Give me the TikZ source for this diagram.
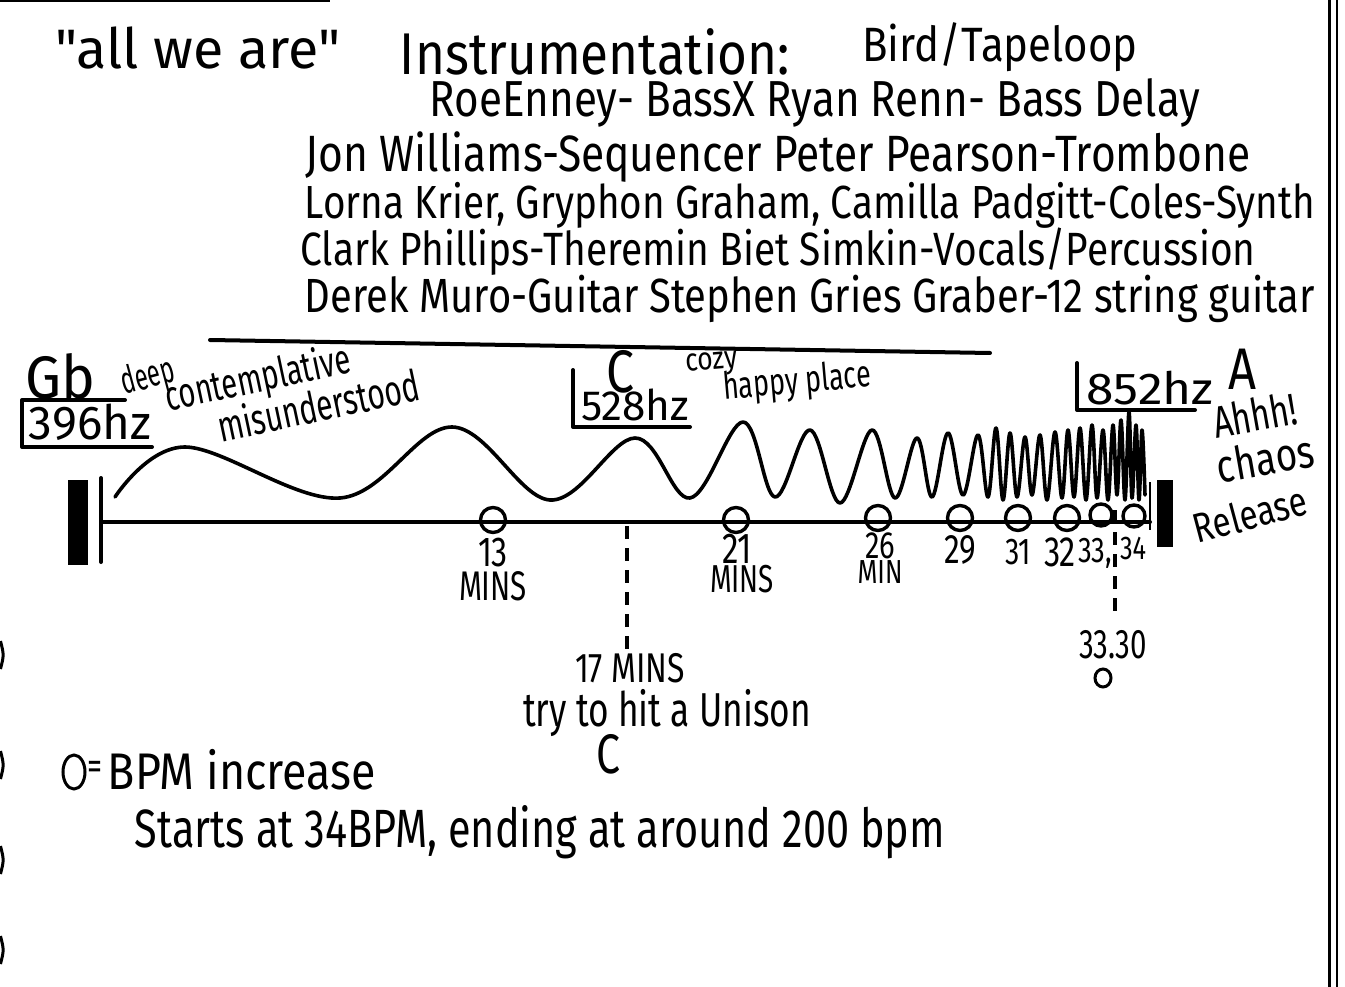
\documentclass[tikz,border=0pt]{standalone}
\usepackage{graphicx}
\usepackage{fontspec}
\usetikzlibrary{shapes.geometric}
\newfontfamily\hand{Fira Sans}
\newcommand{\hw}[3][1.35]{\scalebox{1}[#1]{\resizebox{#2pt}{!}{\hand #3}}}
\tikzset{
  txt/.style={inner sep=0pt, anchor=center},
  ink/.style={line width=4pt, line cap=round, line join=round},
  bpm/.style={draw, circle, line width=3.4pt, minimum size=25pt, inner sep=0pt},
  dashedline/.style={line width=3.5pt, dash pattern=on 13pt off 9pt},
  wave/.style={line width=3.6pt, line join=round, line cap=round},
}
\begin{document}
\begin{tikzpicture}[x=1pt,y=-1pt]
\useasboundingbox (0,0) rectangle (1345,987);
\fill[white] (0,0) rectangle (1345,987);

% page edges
\draw[line width=3pt] (1329,0) -- (1329,987);
\draw[line width=2pt] (1337,0) -- (1337,987);
\draw[line width=1.5pt] (0,1) -- (330,1);
\foreach \yy in {655,765,860,950}{\draw[line width=3pt] (0.5,\yy-14) .. controls (4,\yy) .. (0.5,\yy+14);}

% header
\node[txt] (title) at (198,48) {\hw[1.0]{285}{"all we are"}};
\node[txt] (instr) at (595,52) {\hw[1.15]{390}{Instrumentation:}};
\node[txt] (bird) at (1000,47) {\hw[1.15]{275}{Bird/Tapeloop}};
\node[txt] (roe) at (815,103) {\hw[1.2]{770}{RoeEnney- BassX Ryan Renn- Bass Delay}};
\node[txt] (jon) at (778,157) {\hw[1.2]{945}{Jon Williams-Sequencer Peter Pearson-Trombone}};
\node[txt] (lorna) at (810,205) {\hw[1.2]{1010}{Lorna Krier, Gryphon Graham, Camilla Padgitt-Coles-Synth}};
\node[txt] (clark) at (778,252) {\hw[1.2]{955}{Clark Phillips-Theremin Biet Simkin-Vocals/Percussion}};
\node[txt] (derek) at (810,299) {\hw[1.2]{1010}{Derek Muro-Guitar Stephen Gries Graber-12 string guitar}};

\draw[ink] (210,340) -- (990,353);

% left labels
\node[txt] (gb) at (60,376) {\hw[1.05]{70}{Gb}};
\node[txt] (f396) at (90,422) {\hw[1.0]{122}{396hz}};
\draw[ink] (125,400) -- (22,400) -- (22,447) -- (152,447);
\node[txt, rotate=15] (deep) at (148,378) {\hw[1.6]{54}{deep}};
\node[txt, rotate=12] (contemp) at (258,380) {\hw[1.45]{188}{contemplative}};
\node[txt, rotate=12] (misund) at (318,405) {\hw[1.45]{205}{misunderstood}};

% middle labels
\node[txt] (cnote) at (620,372) {\hw[1.2]{28}{C}};
\node[txt] (f528) at (635,405) {\hw[1.0]{108}{528hz}};
\draw[ink] (573,370) -- (573,427) -- (690,427);
\node[txt, rotate=5] (cozy) at (712,364) {\hw[1.2]{52}{cozy}};
\node[txt, rotate=5] (happy) at (797,383) {\hw[1.4]{148}{happy place}};

% right labels
\node[txt] (f852) at (1150,388) {\hw[0.9]{127}{852hz}};
\draw[ink] (1077,363) -- (1077,410) -- (1195,410);
\node[txt] (anote) at (1242,369) {\hw[1.2]{28}{A}};
\node[txt, rotate=10] (ahhh) at (1255,415) {\hw[1.35]{85}{Ahhh!}};
\node[txt, rotate=10] (chaos) at (1265,458) {\hw[1.25]{98}{chaos}};
\node[txt, rotate=15] (release) at (1250,514) {\hw[1.25]{116}{Release}};

% timeline
\coordinate (tl0) at (101,522);
\coordinate (tl1) at (1150,522);
\fill (68,480) rectangle (88,565);
\draw[ink] (101,478) -- (101,562);
\draw[ink] (tl0) -- (tl1);
\draw[line width=2pt] (1150,482) -- (1150,530);
\fill (1157,480) rectangle (1173,547);

% wave
\draw[wave] plot[smooth, tension=0.6] coordinates {
(115,497) (185,447) (340,498) (452,427) (550,500) (635,438) (690,498)
(743,422) (775,497) (810,430) (840,503) (872,430) (895,498) (917,438)
(932,497) (948,433) (963,495) (978,435) (988,497) (996,428) (1003,500)
(1010,433) (1017,497) (1025,437) (1032,495) (1040,435) (1047,500)
(1055,432) (1062,498) (1068,430) (1074,497) (1080,428) (1086,500)
(1092,425) (1097,498) (1103,430) (1108,500) (1113,425) (1117,495)
(1121,420) (1125,500) (1129,412) (1132,498) (1136,425) (1139,500)
(1142,430) (1145,495)};

% bpm circles
\node[bpm] (b13) at (493,520) {};
\node[bpm] (b21) at (736,520) {};
\node[bpm] (b26) at (878,518) {};
\node[bpm] (b29) at (960,518) {};
\node[bpm] (b31) at (1018,518) {};
\node[bpm] (b32) at (1067,518) {};
\node[bpm, minimum size=22pt] (b33) at (1101,515) {};
\node[bpm, minimum size=22pt] (b34) at (1134,516) {};

% timeline labels
\node[txt] (l13) at (493,553) {\hw[1.3]{30}{13}};
\node[txt] (m13) at (493,586) {\hw[1.4]{68}{MINS}};
\node[txt] (l21) at (737,549) {\hw[1.3]{30}{21}};
\node[txt] (m21) at (742,579) {\hw[1.4]{64}{MINS}};
\node[txt] (l26) at (880,546) {\hw[1.3]{30}{26}};
\node[txt] (m26) at (880,572) {\hw[1.3]{45}{MIN}};
\node[txt] (l29) at (960,550) {\hw[1.3]{32}{29}};
\node[txt] (l31) at (1018,552) {\hw[1.3]{26}{31}};
\node[txt] (l32) at (1060,552) {\hw[1.3]{32}{32}};
\node[txt] (l33) at (1095,553) {\hw[1.3]{34}{33,}};
\node[txt] (l34) at (1133,549) {\hw[1.3]{26}{34}};

% 17 min marker
\coordinate (d17a) at (627,526);
\coordinate (d17b) at (627,650);
\draw[dashedline] (d17a) -- (d17b);
\node[txt] (t17) at (630,668) {\hw[1.3]{110}{17 MINS}};
\node[txt] (unison) at (667,713) {\hw[1.35]{288}{try to hit a Unison}};
\node[txt] (cunis) at (608,754) {\hw[1.3]{24}{C}};

% 33.30 marker
\coordinate (d33a) at (1115,510);
\coordinate (d33b) at (1115,620);
\draw[dashedline] (d33a) -- (d33b);
\node[txt] (t3330) at (1113,645) {\hw[1.4]{68}{33.30}};
\draw[line width=3pt] (1103,678) ellipse[x radius=8, y radius=9];

% legend
\node[draw, ellipse, line width=3pt, minimum width=22pt, minimum height=34pt, inner sep=0pt] (lego) at (74,772) {};
\node[txt] (legeq) at (95,770) {\hw[1.3]{15}{=}};
\node[txt] (legtxt) at (242,770) {\hw[1.15]{268}{BPM increase}};
\node[txt] (starts) at (540,832) {\hw[1.3]{810}{Starts at 34BPM, ending at around 200 bpm}};
\end{tikzpicture}
\end{document}
